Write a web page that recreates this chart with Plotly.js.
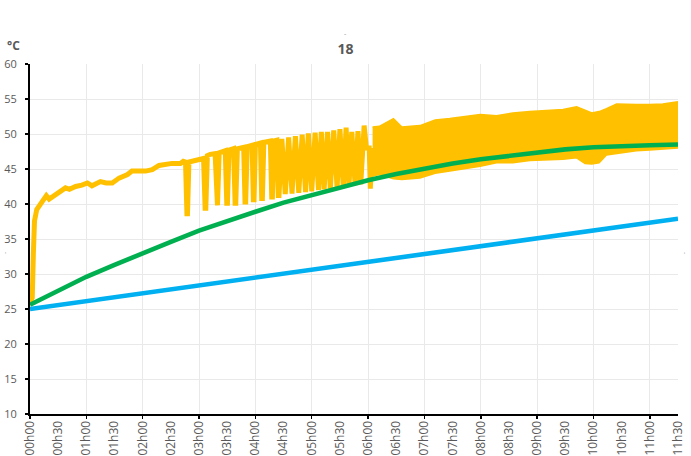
<!DOCTYPE html>
<html>
<head>
<meta charset="utf-8">
<script src="https://cdn.plot.ly/plotly-3.0.1.min.js"></script>
<style>html,body{margin:0;padding:0;background:#fff;}#chart{width:691px;height:456px;}</style>
</head>
<body>
<div id="chart"></div>
<script>
// ---- Data ----
const tickHours = [0, 0.5, 1, 1.5, 2, 2.5, 3, 3.5, 4, 4.5, 5, 5.5, 6, 6.5, 7, 7.5, 8, 8.5, 9, 9.5, 10, 10.5, 11, 11.5];
const tickLabels = ['00h00','00h30','01h00','01h30','02h00','02h30','03h00','03h30','04h00','04h30','05h00','05h30',
                    '06h00','06h30','07h00','07h30','08h00','08h30','09h00','09h30','10h00','10h30','11h00','11h30'];
const gridHours = [0, 1, 2, 3, 4, 5, 6, 7, 8, 9, 10, 11];

// Blue series (straight rise)
const blueTime = [0, 11.5];
const blueTemp = [25.0, 37.9];

// Green series
const greenTime = [0, 0.5, 1, 1.5, 2, 2.5, 3, 3.5, 4, 4.5, 5, 5.5, 6, 6.5, 7, 7.5, 8, 8.5, 9, 9.5, 10, 10.5, 11, 11.5];
const greenTemp = [25.6, 27.6, 29.6, 31.3, 33.0, 34.6, 36.2, 37.6, 38.9, 40.2, 41.3, 42.4, 43.4, 44.3, 45.1, 45.8, 46.4, 46.9, 47.4, 47.8, 48.1, 48.3, 48.4, 48.5];

// Yellow series, first part (rise, then cycling dips up to 06h00)
const yellowTime = [0.00, 0.04, 0.06, 0.08, 0.12, 0.18, 0.25, 0.29, 0.34, 0.40, 0.45, 0.55, 0.63, 0.70, 0.81, 0.92,
  1.02, 1.10, 1.25, 1.35, 1.46, 1.58, 1.73, 1.81, 2.05, 2.17, 2.29, 2.52, 2.67, 2.72, 2.76, 2.785, 2.795, 2.82, 2.95,
  3.07, 3.08, 3.108, 3.120, 3.148, 3.20, 3.285, 3.315, 3.327, 3.357, 3.41, 3.465, 3.492, 3.504, 3.531, 3.56,
  3.613, 3.640, 3.652, 3.680, 3.735, 3.792, 3.816, 3.828, 3.855, 3.90, 3.942, 3.964, 3.976, 4.00, 4.05,
  4.09, 4.112, 4.124, 4.15, 4.20, 4.265, 4.290, 4.302, 4.33, 4.38, 4.407, 4.419, 4.47,
  4.53, 4.59, 4.65, 4.71, 4.77, 4.83, 4.89, 4.94, 5.00, 5.06, 5.12, 5.17, 5.22, 5.28, 5.33, 5.39, 5.45, 5.50,
  5.56, 5.61, 5.66, 5.71, 5.77, 5.82, 5.87, 5.93, 5.97, 6.02, 6.04, 6.07];
const yellowTemp = [26.0, 26.6, 33.0, 37.6, 39.2, 40.0, 40.8, 41.2, 40.7, 41.0, 41.3, 41.8, 42.3, 42.1, 42.5, 42.7,
  43.0, 42.6, 43.2, 43.0, 43.0, 43.7, 44.2, 44.7, 44.7, 44.9, 45.5, 45.8, 45.8, 46.1, 46.0, 38.6, 38.6, 46.0, 46.3,
  46.6, 46.5, 39.4, 39.4, 46.9, 47.1, 47.2, 39.8, 39.8, 47.3, 47.5, 47.6, 40.1, 40.1, 47.7, 47.8,
  47.9, 40.1, 40.1, 47.9, 48.0, 48.1, 40.3, 40.3, 48.2, 48.3, 48.4, 40.6, 40.6, 48.5, 48.6,
  48.7, 40.8, 40.8, 48.8, 48.9, 49.0, 41.0, 41.0, 49.0, 49.1, 41.2, 41.2, 49.3,
  41.4, 49.5, 41.5, 49.7, 41.6, 49.9, 41.7, 50.1, 41.8, 50.2, 42.0, 50.3, 42.1, 50.3, 42.2, 50.5, 42.3, 50.7,
  42.4, 50.9, 42.5, 50.3, 42.7, 50.4, 42.8, 51.2, 48.0, 48.0, 42.2, 48.0];

// Yellow series, dense cycling after 06h00: upper and lower reach
const bandTime  = [6.08, 6.20, 6.45, 6.60, 6.92, 7.19, 7.45, 7.69, 7.99, 8.28, 8.57, 8.87, 9.23, 9.46, 9.70, 9.85, 9.97, 10.10, 10.23, 10.41, 10.64, 10.76, 11.00, 11.23, 11.50];
const bandUpper = [51.0, 51.1, 52.2, 51.0, 51.2, 52.0, 52.2, 52.5, 52.8, 52.6, 53.0, 53.2, 53.4, 53.5, 53.9, 53.4, 53.0, 53.2, 53.6, 54.3, 54.2, 54.2, 54.2, 54.3, 54.6];
const bandLower = [44.0, 44.2, 43.6, 43.5, 43.7, 44.4, 44.7, 45.0, 45.4, 45.9, 45.9, 46.2, 46.3, 46.4, 46.6, 45.8, 45.7, 45.9, 47.0, 47.2, 47.5, 47.6, 47.7, 47.8, 48.0];

// ---- Styles ----
const YELLOW = '#FFC000', GREEN = '#00B050', BLUE = '#00B0F0';
const TXT = '#595959', GRID = '#e9e9e9';
const FONT = 'Open Sans';
const LW = 4.6;

const traces = [
  {x: [], y: [], xaxis: 'x2', yaxis: 'y', type: 'scatter', mode: 'lines', showlegend: false, hoverinfo: 'skip'},
  {x: blueTime, y: blueTemp, type: 'scatter', mode: 'lines', line: {color: BLUE, width: LW}, showlegend: false},
  {x: yellowTime, y: yellowTemp, type: 'scatter', mode: 'lines', line: {color: YELLOW, width: 5}, showlegend: false},
  {x: bandTime, y: bandLower, type: 'scatter', mode: 'lines', line: {color: YELLOW, width: 1.5}, showlegend: false},
  {x: bandTime, y: bandUpper, type: 'scatter', mode: 'lines', fill: 'tonexty', fillcolor: YELLOW, line: {color: YELLOW, width: 1.5}, showlegend: false},
  {x: greenTime, y: greenTemp, type: 'scatter', mode: 'lines', line: {color: GREEN, width: LW}, showlegend: false}
];

const layout = {
  width: 691, height: 456,
  margin: {l: 30, r: 13, t: 64, b: 42, pad: 0},
  paper_bgcolor: '#fff', plot_bgcolor: '#fff',
  showlegend: false,
  title: {text: '18', font: {family: FONT, size: 14, color: TXT, weight: 'bold'},
          x: 0.5, xref: 'container', xanchor: 'center', y: 1 - 49/456, yref: 'container', yanchor: 'middle'},
  xaxis: {range: [0, 11.5], tickmode: 'array', tickvals: tickHours, ticktext: tickLabels, tickangle: -90,
          ticks: '', showgrid: false, zeroline: false, showline: true, linecolor: '#000', linewidth: 2,
          tickfont: {family: FONT, size: 12, color: TXT}},
  xaxis2: {overlaying: 'x', anchor: 'y', side: 'bottom', range: [0, 11.5], tickmode: 'array', tickvals: gridHours,
           ticks: 'outside', ticklen: 4, tickwidth: 1.5, tickcolor: '#000', showticklabels: false,
           showgrid: true, gridcolor: GRID, gridwidth: 1, zeroline: false, showline: false},
  yaxis: {range: [10, 60], tick0: 10, dtick: 5, ticks: 'outside', ticklen: 3, tickwidth: 1.5, tickcolor: '#000',
          showline: true, linecolor: '#000', linewidth: 2, showgrid: true, gridcolor: GRID, gridwidth: 1,
          zeroline: false, ticklabelstandoff: 6, tickfont: {family: FONT, size: 11, color: TXT}},
  annotations: [
    {text: '°C', xref: 'paper', yref: 'paper', x: -0.026, y: 1.054, xanchor: 'center', yanchor: 'middle',
     showarrow: false, font: {family: FONT, size: 12, color: TXT, weight: 'bold'}},
    {text: '-', xref: 'paper', yref: 'paper', x: 0.486, y: 1.086, xanchor: 'center', yanchor: 'middle',
     showarrow: false, font: {family: FONT, size: 7, color: '#999'}},
    {text: '-', xref: 'paper', yref: 'paper', x: -0.040, y: 0.46, xanchor: 'center', yanchor: 'middle', textangle: -90,
     showarrow: false, font: {family: FONT, size: 7, color: '#aaa'}},
    {text: '-', xref: 'paper', yref: 'paper', x: 1.008, y: 0.46, xanchor: 'center', yanchor: 'middle', textangle: -90,
     showarrow: false, font: {family: FONT, size: 7, color: '#aaa'}}
  ]
};

Plotly.newPlot('chart', traces, layout, {displayModeBar: false, staticPlot: true});
</script>
</body>
</html>
